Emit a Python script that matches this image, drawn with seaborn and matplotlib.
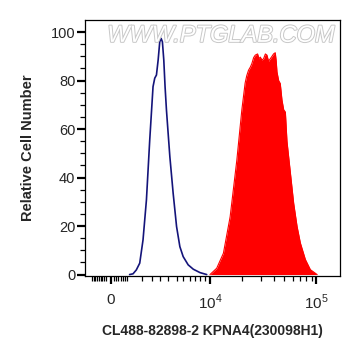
import numpy as np
import pandas as pd
import matplotlib
matplotlib.use("Agg")
import matplotlib.pyplot as plt
import matplotlib.patheffects as pe
import seaborn as sns

# x is in "decade" display units of the logicle axis (4 = 10^4, 5 = 10^5)
ctrl_x = [3.245, 3.277, 3.308, 3.340, 3.371, 3.403, 3.434, 3.465, 3.481, 3.497,
          3.513, 3.528, 3.541, 3.553, 3.566, 3.578, 3.591, 3.607, 3.623, 3.654,
          3.686, 3.717, 3.748, 3.795, 3.843, 3.906, 3.969]
ctrl_y = [0, 0.3, 1.9, 4.7, 14.3, 30.8, 55.5, 77.5, 81, 82.3,
          88.5, 96, 97.4, 96, 88.5, 77.5, 67.9, 58.2, 48.6, 33.5,
          19.8, 11.5, 7.4, 4.0, 2.2, 0.8, 0]

stain_x = [4.000, 4.063, 4.126, 4.189, 4.252, 4.299, 4.330, 4.345, 4.362, 4.378,
           4.393, 4.410, 4.425, 4.447, 4.460, 4.472, 4.488, 4.503, 4.520, 4.535,
           4.550, 4.566, 4.582, 4.597, 4.613, 4.622, 4.629, 4.645, 4.660, 4.676,
           4.692, 4.708, 4.723, 4.755, 4.786, 4.818, 4.849, 4.896, 4.943, 5.006]
stain_y = [0, 2.6, 8.8, 23.8, 47.2, 67.9, 79, 82, 84.3, 85.5,
           87, 89.5, 90.5, 91, 89, 89.7, 88.5, 89, 91, 90.5,
           88, 89, 90, 91, 91.5, 88, 83.6, 80, 78.8, 72,
           68, 67, 55, 42, 29.4, 19.8, 13, 6.2, 2, 0]

x_major = [3.068, 4.0, 5.0]
x_major_labels = ["0", "$10^4$", "$10^5$"]

ctrl = pd.DataFrame({"x": ctrl_x, "y": ctrl_y})
stain = pd.DataFrame({"x": stain_x, "y": stain_y})

sns.set_style("white")
plt.rcParams["font.family"] = ["Liberation Sans", "DejaVu Sans"]
plt.rcParams["mathtext.fontset"] = "custom"
plt.rcParams["mathtext.rm"] = "Liberation Sans"

fig = plt.figure(figsize=(3.61, 3.56), dpi=100)
ax = fig.add_axes([85 / 361, 1 - 276 / 356, 255 / 361, 256 / 356])

ax.fill_between(stain["x"], stain["y"], color="#ff0000", lw=0)
sns.lineplot(data=stain, x="x", y="y", color="#ff0000", lw=0.8, ax=ax)
sns.lineplot(data=ctrl, x="x", y="y", color="#14147a", lw=1.2, ax=ax)

ax.set_xlim(2.826, 5.221)
ax.set_ylim(-0.6, 105)

# ticks
ax.set_yticks([0, 20, 40, 60, 80, 100])
ax.set_yticks(np.arange(5, 105, 5), minor=True)
ax.set_xticks(x_major)
ax.set_xticklabels(x_major_labels)
minor_x = list(np.linspace(2.892, 3.02, 9)) + list(np.linspace(3.10, 3.221, 7)) + \
    [3.359, 3.453, 3.531, 3.608, 3.687, 3.749, 3.812, 3.859, 3.906, 3.953] + \
    [4 + np.log10(k) for k in range(2, 10)]
ax.set_xticks(minor_x, minor=True)

ax.tick_params(axis="both", which="major", direction="out", length=6, width=1.6,
               color="black", labelsize=10.5, pad=1)
ax.tick_params(axis="x", which="major", pad=6, labelsize=11)
ax.tick_params(axis="both", which="minor", direction="out", length=3.5, width=0.9,
               color="black")
ax.tick_params(bottom=True, left=True, which="both")

for s in ax.spines.values():
    s.set_color("black")
    s.set_linewidth(0.9)

ax.set_xlabel("CL488-82898-2 KPNA4(230098H1)", fontsize=10, fontweight="bold",
              labelpad=9)
ax.set_ylabel("Relative Cell Number", fontsize=10.5, fontweight="bold",
              labelpad=11)

ax.text(0.533, 0.94, "WWW.PTGLAB.COM", transform=ax.transAxes, ha="center",
        va="center", fontsize=17, style="italic", color="white",
        path_effects=[pe.withStroke(linewidth=1.4, foreground="#c8c8c8")])

fig.savefig("out.png", dpi=100)
